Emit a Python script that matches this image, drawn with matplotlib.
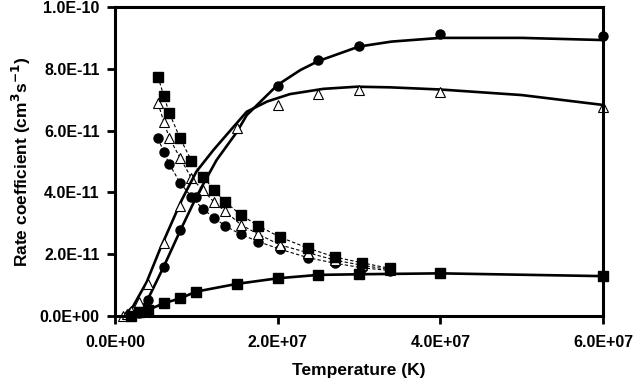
import matplotlib
matplotlib.use("Agg")
import matplotlib.pyplot as plt
from matplotlib.ticker import FuncFormatter

plt.rcParams['font.family'] = ['Liberation Sans', 'DejaVu Sans']
plt.rcParams['font.weight'] = 'bold'

# temperatures in K, rate coefficients in cm^3 s^-1
# falling (dashed) series share the same temperatures
t_fall = [5.3e6, 6.0e6, 6.7e6, 8.0e6, 9.4e6, 1.08e7, 1.22e7, 1.35e7, 1.55e7,
          1.76e7, 2.03e7, 2.37e7, 2.70e7, 3.04e7, 3.38e7]
sq_fall = [7.74, 7.12, 6.56, 5.75, 5.03, 4.51, 4.08, 3.70, 3.27, 2.92, 2.55,
           2.20, 1.91, 1.72, 1.54]
tri_fall = [6.88, 6.29, 5.75, 5.12, 4.46, 4.08, 3.68, 3.40, 2.95, 2.65, 2.30,
            2.05, 1.81, 1.64, 1.50]
circ_fall = [5.75, 5.30, 4.91, 4.31, 3.86, 3.46, 3.18, 2.92, 2.64, 2.41, 2.16,
             1.89, 1.71, 1.56, 1.47]

# rising series (markers)
t_circ = [2e6, 3e6, 4e6, 6e6, 8e6, 1e7, 2e7, 2.5e7, 3e7, 4e7, 6e7]
circ = [0.0, 0.1, 0.52, 1.60, 2.78, 3.85, 7.44, 8.28, 8.74, 9.13, 9.06]
t_tri = [1e6, 1.5e6, 2e6, 3e6, 4e6, 6e6, 8e6, 1.5e7, 2e7, 2.5e7, 3e7, 4e7, 6e7]
tri = [0.0, 0.05, 0.15, 0.45, 1.05, 2.35, 3.57, 6.10, 6.83, 7.18, 7.31, 7.26, 6.75]
t_sq = [2e6, 3e6, 4e6, 6e6, 8e6, 1e7, 1.5e7, 2e7, 2.5e7, 3e7, 4e7, 6e7]
sq = [0.0, 0.12, 0.19, 0.41, 0.57, 0.79, 1.04, 1.22, 1.33, 1.35, 1.38, 1.29]

# solid fit curves
t_circ_fit = [2.5e6, 4e6, 6e6, 8e6, 1e7, 1.09e7, 1.25e7, 1.5e7, 1.62e7, 2e7,
              2.28e7, 2.5e7, 3e7, 3.4e7, 4e7, 5e7, 6e7]
circ_fit = [0.0, 0.52, 1.60, 2.75, 3.85, 4.29, 5.05, 5.96, 6.50, 7.48, 7.96,
            8.25, 8.72, 8.88, 9.00, 9.00, 8.93]
t_tri_fit = [1e6, 2.2e6, 3.9e6, 5.5e6, 8.2e6, 1e7, 1.21e7, 1.46e7, 1.62e7,
             1.87e7, 2.15e7, 2.56e7, 2.97e7, 3.38e7, 4e7, 5e7, 6e7]
tri_fit = [0.0, 0.3, 1.1, 2.14, 3.75, 4.67, 5.37, 6.13, 6.61, 6.94, 7.18,
           7.35, 7.42, 7.40, 7.33, 7.15, 6.83]

xticks = [0, 2e7, 4e7, 6e7]
yticks = [0, 2e-11, 4e-11, 6e-11, 8e-11, 1e-10]

s = 1e-11
fig = plt.figure(figsize=(6.37, 3.84), dpi=100)
ax = fig.add_axes([0.1805, 0.1771, 0.9466 - 0.1805, 0.9818 - 0.1771])

# dashed decreasing series
dash = dict(color='black', lw=0.8, ls=(0, (3, 2)), clip_on=False)
ax.plot(t_fall, [v * s for v in circ_fall], marker='o', ms=6.5, mfc='black',
        mec='black', **dash)
ax.plot(t_fall, [v * s for v in tri_fall], marker='^', ms=7, mfc='white',
        mec='black', mew=0.8, **dash)
ax.plot(t_fall, [v * s for v in sq_fall], marker='s', ms=6.5, mfc='black',
        mec='black', **dash)

# solid rising curves
ax.plot(t_circ_fit, [v * s for v in circ_fit], color='black', lw=1.9)
ax.plot(t_tri_fit, [v * s for v in tri_fit], color='black', lw=1.9)
ax.plot(t_sq, [v * s for v in sq], color='black', lw=1.9)

ax.plot(t_circ, [v * s for v in circ], 'o', ms=6.5, color='black', clip_on=False)
ax.plot(t_tri, [v * s for v in tri], '^', ms=7, mfc='white', mec='black',
        mew=0.8, clip_on=False)
ax.plot(t_sq, [v * s for v in sq], 's', ms=6.5, color='black', clip_on=False)

ax.set_xlim(0, 6e7)
ax.set_ylim(0, 1e-10)
ax.set_xticks(xticks)
ax.set_yticks(yticks)
fmt = FuncFormatter(lambda v, p: f"{v:.1E}")
ax.xaxis.set_major_formatter(fmt)
ax.yaxis.set_major_formatter(fmt)
ax.tick_params(direction='out', length=6, width=2, labelsize=11.5,
               top=False, right=False)
ax.tick_params(axis='x', pad=8)
ax.tick_params(axis='y', pad=5)
for sp in ax.spines.values():
    sp.set_linewidth(2.2)

ax.set_xlabel('Temperature (K)', fontsize=12.5, fontweight='bold', labelpad=9)
ax.set_ylabel('Rate coefficient (cm$^\\mathbf{3}$s$^\\mathbf{-1}$)', fontsize=12.5,
              fontweight='bold', labelpad=5)

fig.savefig('out.png', dpi=100)
